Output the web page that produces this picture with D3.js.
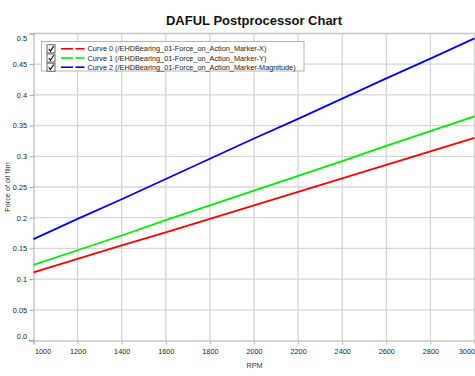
<!DOCTYPE html>
<html>
<head>
<meta charset="utf-8">
<script src="https://cdn.jsdelivr.net/npm/d3@7"></script>
<style>
  html, body { margin: 0; padding: 0; background: #fff; }
  #chart { width: 475px; height: 376px; }
  text { font-family: "Liberation Sans", Arial, sans-serif; }
</style>
</head>
<body>
<div id="chart"></div>
<script>
/* Force of oil film vs RPM, three curves */
const RPM = [1000, 1200, 1400, 1600, 1800, 2000, 2200, 2400, 2600, 2800, 3000];
const CURVE_X = [0.111, 0.133, 0.155, 0.176, 0.198, 0.220, 0.242, 0.264, 0.286, 0.308, 0.330];
const CURVE_Y = [0.123, 0.147, 0.171, 0.196, 0.220, 0.244, 0.268, 0.292, 0.317, 0.341, 0.365];
const CURVE_MAG = [0.165, 0.198, 0.230, 0.263, 0.296, 0.329, 0.361, 0.394, 0.427, 0.459, 0.492];
const SERIES_NAMES = [
  "Curve 0 (/EHDBearing_01-Force_on_Action_Marker-X)",
  "Curve 1 (/EHDBearing_01-Force_on_Action_Marker-Y)",
  "Curve 2 (/EHDBearing_01-Force_on_Action_Marker-Magnitude)"
];
const SERIES_COLORS = ["#ff0000", "#00ee00", "#0000ff"];
const X_TICKS = [1000, 1200, 1400, 1600, 1800, 2000, 2200, 2400, 2600, 2800, 3000];
const Y_TICKS = [0, 0.05, 0.1, 0.15, 0.2, 0.25, 0.3, 0.35, 0.4, 0.45, 0.5];

const series = [CURVE_X, CURVE_Y, CURVE_MAG].map((vals, i) => ({
  name: SERIES_NAMES[i], color: SERIES_COLORS[i],
  points: RPM.map((r, j) => ({ rpm: r, v: vals[j] }))
}));

const W = 475, H = 376;
const margin = { top: 33.5, right: 0.5, bottom: 35.5, left: 33.5 };
const w = W - margin.left - margin.right;
const h = H - margin.top - margin.bottom;

const svg = d3.select("#chart").append("svg")
  .attr("width", W).attr("height", H)
  .attr("viewBox", `0 0 ${W} ${H}`);

const g = svg.append("g").attr("transform", `translate(${margin.left},${margin.top})`);

const x = d3.scaleLinear().domain([1000, 3000]).range([0, w]);
const y = d3.scaleLinear().domain([0, 0.5]).range([h, 0]);

/* Title */
svg.append("text").attr("x", margin.left + w / 2).attr("y", 25).attr("text-anchor", "middle")
  .style("font-size", "13px").style("font-weight", "bold").style("fill", "#111")
  .text("DAFUL Postprocessor Chart");

/* Grid */
g.append("g").selectAll("line").data(X_TICKS.slice(1)).enter().append("line")
  .attr("x1", d => x(d)).attr("x2", d => x(d)).attr("y1", 0).attr("y2", h)
  .attr("stroke", "#d6d6d6").attr("stroke-width", 1.3);
g.append("g").selectAll("line").data(Y_TICKS.slice(1)).enter().append("line")
  .attr("x1", 0).attr("x2", w).attr("y1", d => y(d)).attr("y2", d => y(d))
  .attr("stroke", d => d === 0.5 ? "#c4c4c4" : "#d6d6d6").attr("stroke-width", 1.3);

/* Axes */
const yAxis = g.append("g").call(d3.axisLeft(y).tickValues(Y_TICKS).tickSize(4).tickPadding(2.5)
  .tickFormat(d => d === 0 ? "0.0" : String(d)));
yAxis.select(".domain").attr("stroke", "#a8a8a8");
yAxis.selectAll(".tick line").attr("stroke", "#a8a8a8");
yAxis.selectAll("text").style("font-size", "7.3px").style("fill", "#222")
  .attr("dy", d => d === 0.5 ? "0.95em" : d === 0 ? "-0.3em" : "0.32em");

const xAxis = g.append("g").attr("transform", `translate(0,${h})`)
  .call(d3.axisBottom(x).tickValues(X_TICKS).tickSize(4).tickPadding(4.5).tickFormat(d3.format("d")));
xAxis.select(".domain").attr("stroke", "#a8a8a8");
xAxis.selectAll(".tick line").attr("stroke", "#bcbcbc");
xAxis.selectAll("text").style("font-size", "7.3px").style("fill", "#222")
  .attr("text-anchor", d => d === 1000 ? "start" : d === 3000 ? "end" : "middle")
  .attr("x", d => d === 1000 ? 1 : 0);
// bottom axis line runs a little past the y axis
g.append("line").attr("x1", -4.5).attr("x2", 0).attr("y1", h).attr("y2", h).attr("stroke", "#a8a8a8");

/* Axis titles */
svg.append("text").attr("transform", `translate(9.5,${margin.top + h / 2}) rotate(-90)`)
  .attr("text-anchor", "middle").style("font-size", "7.3px").style("fill", "#333")
  .text("Force of oil film");
svg.append("text").attr("x", margin.left + w / 2 + 0.5).attr("y", 367.5).attr("text-anchor", "middle")
  .style("font-size", "7.3px").style("fill", "#333").text("RPM");

/* Lines */
const line = d3.line().x(d => x(d.rpm)).y(d => y(d.v));
g.selectAll(".curve").data(series).enter().append("path").attr("class", "curve")
  .attr("d", d => line(d.points)).attr("fill", "none")
  .attr("stroke", d => d.color).attr("stroke-width", 1.8);

/* Legend */
const lg = svg.append("g").attr("transform", "translate(41.5,41.5)");
lg.append("rect").attr("width", 262.5).attr("height", 29.5)
  .attr("fill", "#fff").attr("stroke", "#b4b4b4");
const rows = lg.selectAll(".lrow").data(series).enter().append("g").attr("class", "lrow")
  .attr("transform", (d, i) => `translate(0,${6.8 + i * 9.2})`);
rows.append("rect").attr("x", 5.5).attr("y", -3.5).attr("width", 8).attr("height", 8)
  .attr("fill", "#fff").attr("stroke", "#555").attr("stroke-width", 0.9);
rows.append("path").attr("d", "M7.3,0.6 L9,2.8 L12.2,-2.2").attr("fill", "none")
  .attr("stroke", "#111").attr("stroke-width", 1.2);
rows.append("line").attr("x1", 19.5).attr("x2", 31.5).attr("y1", 0.5).attr("y2", 0.5)
  .attr("stroke", d => d.color).attr("stroke-width", 1.6);
rows.append("line").attr("x1", 34).attr("x2", 43).attr("y1", 0.5).attr("y2", 0.5)
  .attr("stroke", d => d.color).attr("stroke-width", 1.6);
rows.append("text").attr("x", 46).attr("y", 3)
  .style("font-size", "7.3px").style("fill", "#222").text(d => d.name);
</script>
</body>
</html>
